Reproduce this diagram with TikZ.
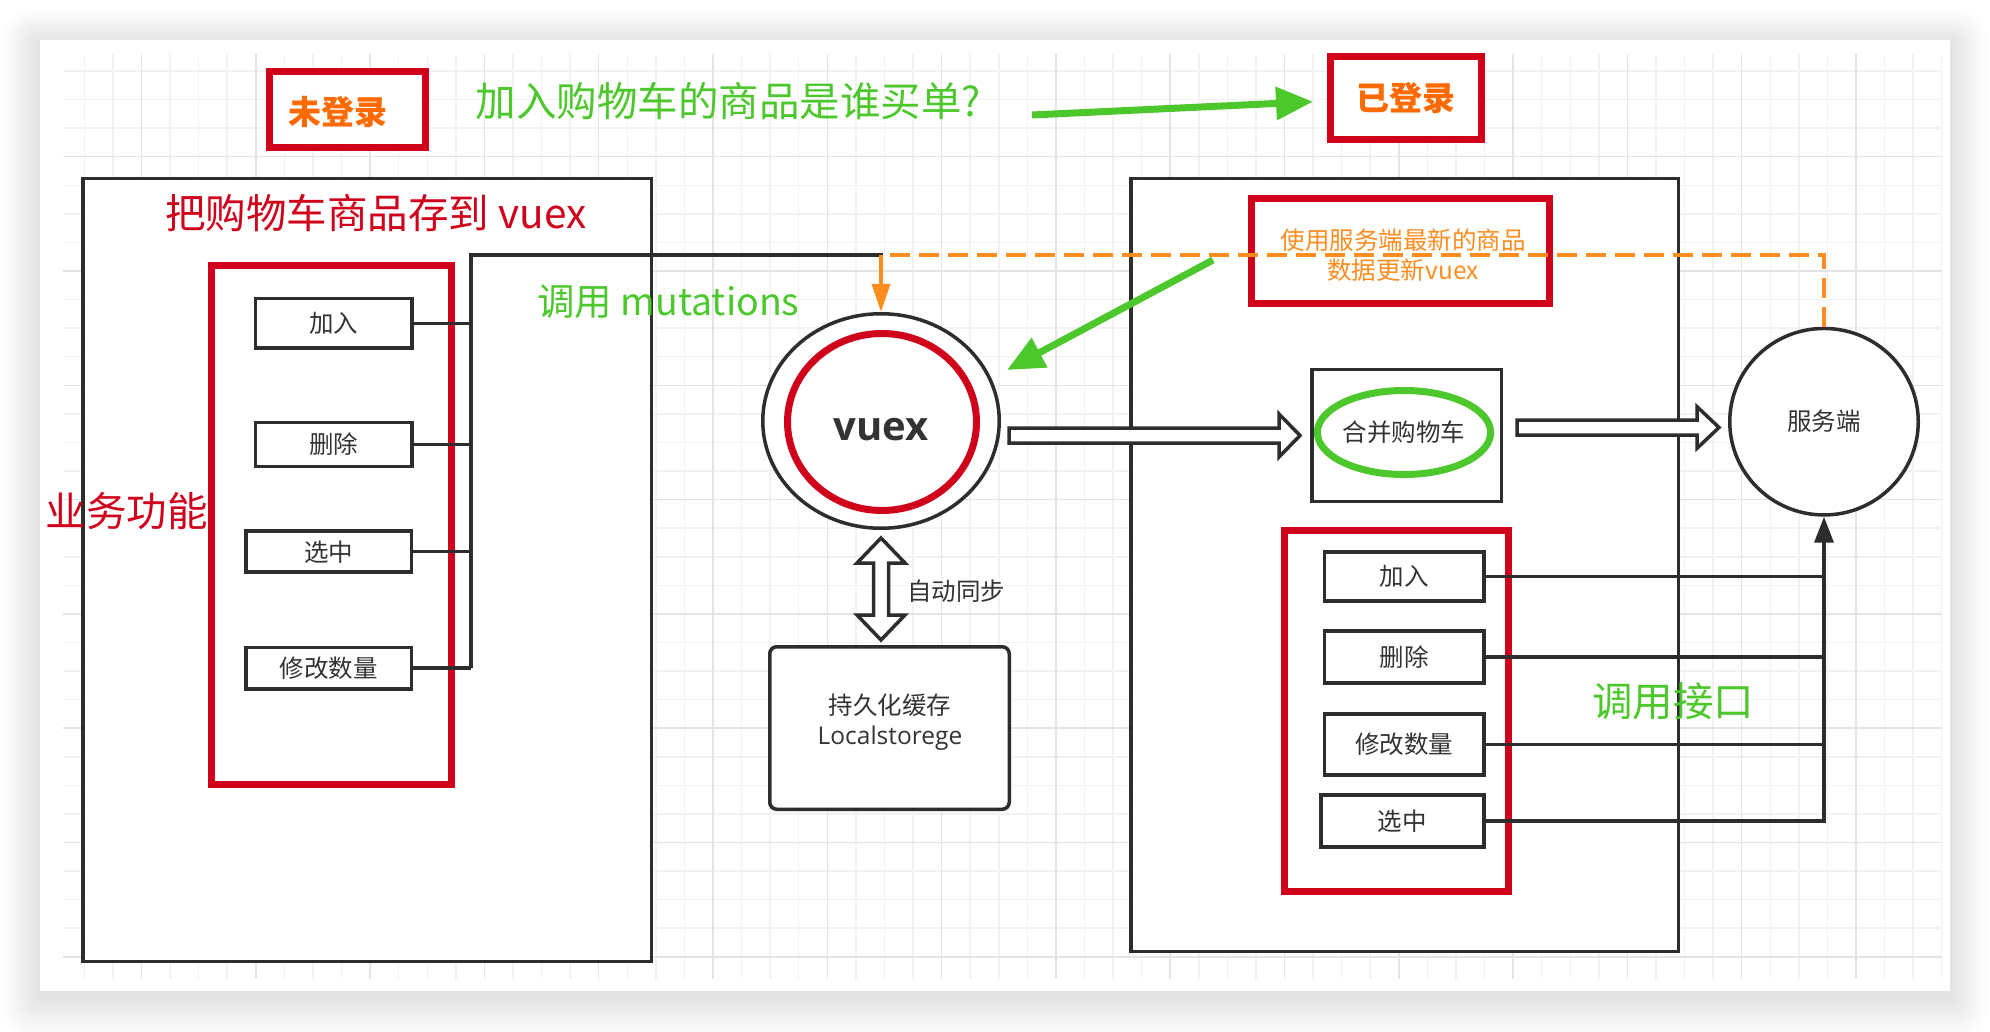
\documentclass[tikz,border=0pt]{standalone}
\usepackage{fontspec}
\setmainfont{Noto Sans CJK SC}
\newfontfamily\osans{Open Sans}
\usetikzlibrary{arrows.meta,calc,shapes.geometric}
\definecolor{myred}{RGB}{208,2,27}
\definecolor{myorange}{RGB}{255,106,0}
\definecolor{lorange}{RGB}{255,140,30}
\definecolor{mygreen}{RGB}{77,200,44}
\definecolor{ink}{RGB}{45,45,45}
\definecolor{txt}{RGB}{51,51,51}
\definecolor{gminor}{RGB}{242,242,242}
\definecolor{gmajor}{RGB}{228,228,228}
\begin{document}
\begin{tikzpicture}[x=1pt,y=-1pt,
  box/.style={draw=ink,line width=3.5pt,fill=white,inner sep=0pt,
    font=\fontsize{24.5}{28}\selectfont,text=txt},
  redbox/.style={draw=myred,line width=7pt,inner sep=0pt},
  conn/.style={draw=ink,line width=3.5pt},
  hollow/.style={draw=ink,fill=white,line width=3.5pt,line join=miter},
  garrow/.style={draw=mygreen,line width=7pt,-{Triangle[length=37pt,width=32pt]}},
  gtext/.style={text=mygreen,font=\fontsize{40.5}{44}\selectfont,inner sep=0pt},
  rtext/.style={text=myred,font=\fontsize{40.5}{44}\selectfont,inner sep=0pt},
  stext/.style={text=txt,font=\fontsize{24.5}{30}\selectfont,inner sep=0pt,align=center},
  otext/.style={text=myorange,font=\fontsize{33}{36}\selectfont\bfseries,inner sep=0pt},
  ell/.style={ellipse,inner sep=0pt}]
\useasboundingbox (0,0) rectangle (1990,1032);
\fill[white] (0,0) rectangle (1990,1032);
% shadow
\foreach \i in {1,...,14}{
  \pgfmathsetmacro\rr{2*\i}
  \fill[black,opacity=0.009,rounded corners=\rr pt] (40-2.6*\i,44-2.4*\i) rectangle (1950+2.6*\i,995+3*\i);
}
\fill[white] (40,40) rectangle (1950,991);
% grid
\begin{scope}
\clip (63,55) rectangle (1942,978);
\foreach \k in {-8,...,60}{
  \pgfmathsetmacro\xx{1741.7-28.575*\k}
  \draw[gminor,line width=1.5pt] (\xx,50) -- (\xx,985);
}
\foreach \m in {-4,...,29}{
  \pgfmathsetmacro\yy{156.7+28.575*\m}
  \draw[gminor,line width=1.5pt] (60,\yy) -- (1945,\yy);
}
\foreach \k in {-8,-4,...,60}{
  \pgfmathsetmacro\xx{1741.7-28.575*\k}
  \draw[gmajor,line width=1.5pt] (\xx,50) -- (\xx,985);
}
\foreach \m in {-4,0,...,28}{
  \pgfmathsetmacro\yy{156.7+28.575*\m}
  \draw[gmajor,line width=1.5pt] (60,\yy) -- (1945,\yy);
}
\end{scope}

% top labels
\node[redbox,fill=white,minimum width=156pt,minimum height=76pt] (wei) at (347,110) {};
\node[otext] (weit) at (338,112) {未登录};
\node[redbox,fill=white,minimum width=151pt,minimum height=83pt,otext] (yi) at (1406,98) {已登录};
\node[gtext] (q) at (728.5,101.5) {加入购物车的商品是谁买单?};

% big boxes
\node[box,minimum width=568.5pt,minimum height=782.5pt] (lbig) at (367,570) {};
\node[box,minimum width=547.5pt,minimum height=772.5pt] (rbig) at (1404.5,565) {};

% left side
\node[rtext] (ltitle) at (376,213) {把购物车商品存到 vuex};
\node[redbox,minimum width=240pt,minimum height=519.6pt] (lred) at (331,525) {};
\node[box,minimum width=156.5pt,minimum height=49.5pt] (l1) at (333.5,323.5) {加入};
\node[box,minimum width=156.5pt,minimum height=44pt] (l2) at (333.5,444.5) {删除};
\node[box,minimum width=165.5pt,minimum height=41pt] (l3) at (328.7,551.7) {选中};
\node[box,minimum width=165.5pt,minimum height=41.5pt] (l4) at (328.7,668.2) {修改数量};
\node[rtext] (biz) at (126.5,511) {业务功能};
\node[gtext,font=\fontsize{37.5}{42}\selectfont,anchor=west] (mut) at (537,302) {调用 mutations};

% vuex
\node[ell,draw=ink,line width=3.5pt,fill=white,minimum width=236.5pt,minimum height=214.5pt] (vo) at (881,421) {};
\node[ell,draw=myred,line width=7pt,minimum width=189pt,minimum height=177pt] (vi) at (882,422) {};
\node[text=txt,font=\osans\bfseries\fontsize{40}{44}\selectfont,inner sep=0pt] (vt) at (881,430) {vuex};

% cache
\node[box,rounded corners=7pt,minimum width=239.5pt,minimum height=162.5pt] (cache) at (889.5,728) {};
\node[stext] (cachet) at (890,722) {持久化缓存\\{\osans Localstorege}};
\node[stext] (sync) at (956,591) {自动同步};

% right side
\node[redbox,minimum width=298pt,minimum height=104.7pt] (rtop) at (1400,250.9) {};
\node[stext,text=lorange] (rtopt) at (1403,255) {使用服务端最新的商品\\数据更新vuex};
\node[box,minimum width=189.5pt,minimum height=131.5pt] (merge) at (1406.5,435.5) {};
\node[ell,draw=mygreen,line width=7pt,minimum width=149pt,minimum height=84pt,
  font=\fontsize{24.5}{28}\selectfont,text=txt] (mergee) at (1404,432.5) {合并购物车};
\node[ell,draw=ink,line width=3.5pt,fill=white,minimum width=188.5pt,minimum height=186.5pt,
  font=\fontsize{24.5}{28}\selectfont,text=txt] (srv) at (1824,421.7) {服务端};
\node[redbox,minimum width=224pt,minimum height=361pt] (rred) at (1396.5,711) {};
\node[box,minimum width=159.4pt,minimum height=49pt] (r1) at (1404.3,576.4) {加入};
\node[box,minimum width=159.4pt,minimum height=52pt] (r2) at (1404.3,657.2) {删除};
\node[box,minimum width=159.4pt,minimum height=61pt] (r3) at (1404.3,744.5) {修改数量};
\node[box,minimum width=163pt,minimum height=52pt] (r4) at (1402.4,821.2) {选中};
\node[gtext] (api) at (1673,701) {调用接口};

% left connectors
\coordinate (jl) at (471,255);
\foreach \n in {l1,l2,l3,l4}{ \draw[conn] (\n.east) -- (\n.east -| jl); }
\draw[conn,line join=miter] (jl |- l4.east) -- (jl) -- (jl -| vo.north) -- ($(vo.north)+(0,-28)$);

% orange dashed feedback
\draw[lorange,line width=4pt,dash pattern=on 20pt off 9pt] (srv.north) -- (srv.north |- jl) -- (jl -| vo.north);
\draw[lorange,line width=3.5pt,-{Triangle[length=28pt,width=18pt]}] (jl -| vo.north) -- (vo.north);

% right connectors
\foreach \n in {r1,r2,r3}{ \draw[conn] (\n.east) -- (\n.east -| srv.south); }
\draw[conn,line join=miter,-{Triangle[length=26pt,width=19pt]}] (r4.east) -- (r4.east -| srv.south) -- (srv.south);

% hollow block arrows
\draw[hollow] (1009,428) -- (1279,428) -- (1279,414) -- (1300,435.5) -- (1279,457) -- (1279,443) -- (1009,443) -- cycle;
\draw[hollow] (1517,420) -- (1697,420) -- (1697,406.7) -- (1719,427.5) -- (1697,448.3) -- (1697,435) -- (1517,435) -- cycle;
\draw[hollow] (873.5,563) -- (857,563) -- (881,538) -- (905,563) -- (888.5,563) -- (888.5,615) -- (905,615) -- (881,640) -- (857,615) -- (873.5,615) -- cycle;

% green arrows
\coordinate (qa0) at (1032,115);
\coordinate (qa1) at (1313,101.7);
\draw[garrow] (qa0) -- (qa1);
\coordinate (ga0) at (1213,260);
\coordinate (ga1) at (1007,370);
\draw[garrow] (ga0) -- (ga1);
\end{tikzpicture}
\end{document}
